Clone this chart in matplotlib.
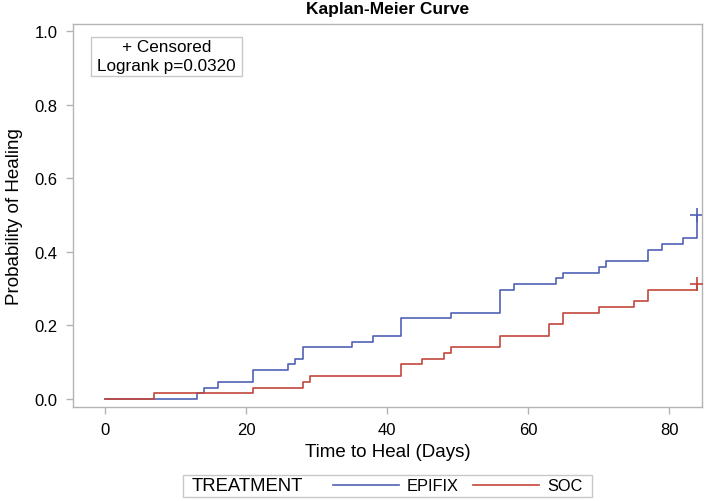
"""Kaplan-Meier healing curve, EPIFIX vs SOC."""

import matplotlib

matplotlib.use("Agg")
import matplotlib.pyplot as plt
from matplotlib.lines import Line2D
from matplotlib.patches import Rectangle

plt.rcParams.update(
    {
        "font.family": ["Liberation Sans", "DejaVu Sans"],
        "font.size": 12,
        "axes.edgecolor": "#b4b4b4",
        "axes.linewidth": 1.0,
    }
)

COLOR_EPIFIX = "#5061b5"
COLOR_SOC = "#c2473b"
GRAY = "#b4b4b4"

# Event times (days) and cumulative probability of healing after each step.
EPIFIX_DAYS = [0, 13, 14, 16, 21, 26, 27, 28, 35, 38, 42, 49, 56, 58, 64, 65, 70, 71, 77, 79, 82, 84]
EPIFIX_PROB = [0.0, 0.016, 0.031, 0.047, 0.078, 0.094, 0.109, 0.141, 0.156, 0.172, 0.219,
               0.234, 0.297, 0.313, 0.328, 0.344, 0.359, 0.375, 0.406, 0.422, 0.438, 0.500]
SOC_DAYS = [0, 7, 21, 28, 29, 42, 45, 48, 49, 56, 63, 65, 70, 75, 77, 84]
SOC_PROB = [0.0, 0.016, 0.031, 0.047, 0.063, 0.094, 0.109, 0.125, 0.141, 0.172, 0.203,
            0.234, 0.250, 0.266, 0.297, 0.313]

# Censored observations (day, probability).
EPIFIX_CENSORED = ([84], [0.500])
SOC_CENSORED = ([84], [0.313])

X_TICKS = [0, 20, 40, 60, 80]
Y_TICKS = [0.0, 0.2, 0.4, 0.6, 0.8, 1.0]

fig = plt.figure(figsize=(7.09, 5.02), dpi=100)
ax = fig.add_axes([0.1025, 0.1878, 0.888, 0.7624])

ax.step(EPIFIX_DAYS, EPIFIX_PROB, where="post", color=COLOR_EPIFIX, linewidth=1.2, zorder=2)
ax.step(SOC_DAYS, SOC_PROB, where="post", color=COLOR_SOC, linewidth=1.2, zorder=3)
ax.plot(*EPIFIX_CENSORED, linestyle="none", marker="+", markersize=10,
        markeredgewidth=1.2, color=COLOR_EPIFIX, zorder=2)
ax.plot(*SOC_CENSORED, linestyle="none", marker="+", markersize=10,
        markeredgewidth=1.2, color=COLOR_SOC, zorder=3)

ax.set_xlim(-4.6, 84.7)
ax.set_ylim(-0.021, 1.02)
ax.set_xticks(X_TICKS)
ax.set_yticks(Y_TICKS)
ax.set_yticklabels([f"{v:.1f}" for v in Y_TICKS])
ax.tick_params(axis="both", direction="out", length=5, width=1.0, color=GRAY,
               labelsize=12, labelcolor="black", pad=6)

ax.set_xlabel("Time to Heal (Days)", fontsize=13.5)
ax.xaxis.set_label_coords(0.5, -0.118)
ax.xaxis.label.set_va("center")
ax.set_ylabel("Probability of Healing", fontsize=13.5)
ax.yaxis.set_label_coords(-0.092, 0.5)
ax.yaxis.label.set_va("center")

ax.set_title("Kaplan-Meier Curve", fontsize=12.5, fontweight="bold", pad=8)

# Inset box with censoring note and logrank p-value.
ax.add_patch(Rectangle((0.029, 0.865), 0.24, 0.102, transform=ax.transAxes,
                       facecolor="white", edgecolor="#c8c8c8", linewidth=1.0, zorder=4))
ax.text(0.149, 0.942, "+ Censored", transform=ax.transAxes, ha="center", va="center",
        fontsize=12.3, zorder=5)
ax.text(0.149, 0.891, "Logrank p=0.0320", transform=ax.transAxes, ha="center", va="center",
        fontsize=12.3, zorder=5)

# Bottom legend: framed strip with a "TREATMENT" heading.
fig.patches.append(Rectangle((0.258, 0.008), 0.577, 0.0444, transform=fig.transFigure,
                             facecolor="white", edgecolor="#c8c8c8", linewidth=1.0))
fig.text(0.2708, 0.0299, "TREATMENT", ha="left", va="center", fontsize=13.3)
handles = [Line2D([], [], color=COLOR_EPIFIX, linewidth=1.2),
           Line2D([], [], color=COLOR_SOC, linewidth=1.2)]
fig.legend(handles, ["EPIFIX", "SOC"], loc="center left", bbox_to_anchor=(0.4697, 0.0299),
           ncol=2, frameon=False, fontsize=11.8, borderpad=0, borderaxespad=0,
           handlelength=4.0, handletextpad=0.5, columnspacing=0.9)

fig.savefig("out.png", dpi=100)
